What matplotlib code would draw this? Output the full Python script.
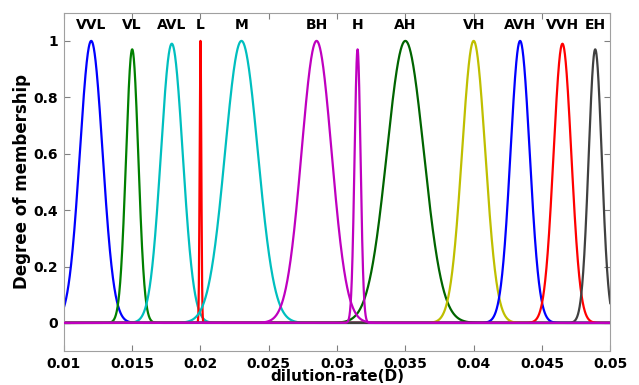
import numpy as np
import matplotlib.pyplot as plt

plt.rcParams['font.family'] = ['DejaVu Sans']
plt.rcParams['font.weight'] = 'bold'

# membership function parameters
labels  = ['VVL', 'VL', 'AVL', 'L', 'M', 'BH', 'H', 'AH', 'VH', 'AVH', 'VVH', 'EH']
centers = [0.0120, 0.0150, 0.0179, 0.0200, 0.0230, 0.0285, 0.0315, 0.0350, 0.0400, 0.0434, 0.0465, 0.0489]
sigmas  = [0.00083, 0.00045, 0.00080, 0.00006, 0.00120, 0.00110, 0.00022, 0.00135, 0.00085, 0.00070, 0.00065, 0.00048]
heights = [1.0, 0.97, 0.99, 1.0, 1.0, 1.0, 0.97, 1.0, 1.0, 1.0, 0.99, 0.97]

colors = ['#0000ff', '#008000', '#00bfbf', '#ff0000', '#00bfbf', '#bf00bf',
          '#bf00bf', '#006400', '#bfbf00', '#0000ff', '#ff0000', '#404040']

x = np.linspace(0.01, 0.05, 4001)

fig = plt.figure(figsize=(6.39, 3.85), dpi=100)
ax = fig.add_axes([0.100, 0.088, 0.855, 0.879])

for i, lab in enumerate(labels):
    y = heights[i] * np.exp(-(x - centers[i])**2 / (2 * sigmas[i]**2))
    z = 3 if colors[i] == '#bf00bf' else 2
    ax.plot(x, y, color=colors[i], lw=1.6, zorder=z)
    ax.text(centers[i], 1.033, lab, ha='center', va='bottom',
            fontsize=10, fontweight='bold')

ax.set_xlim(0.01, 0.05)
ax.set_ylim(-0.1, 1.1)
ax.set_xticks(np.arange(0.01, 0.0501, 0.005))
ax.set_xticklabels(['0.01', '0.015', '0.02', '0.025', '0.03', '0.035',
                    '0.04', '0.045', '0.05'])
ax.set_yticks([0, 0.2, 0.4, 0.6, 0.8, 1])
ax.set_yticklabels(['0', '0.2', '0.4', '0.6', '0.8', '1'])
ax.tick_params(direction='in', top=True, right=True, length=4,
               labelsize=10, color='#808080', pad=4)
for s in ax.spines.values():
    s.set_color('#a0a0a0')

ax.set_xlabel('dilution-rate(D)', fontsize=11, fontweight='bold', labelpad=-1)
ax.set_ylabel('Degree of membership', fontsize=12, fontweight='bold', labelpad=2)

fig.savefig('out.png', dpi=100)
